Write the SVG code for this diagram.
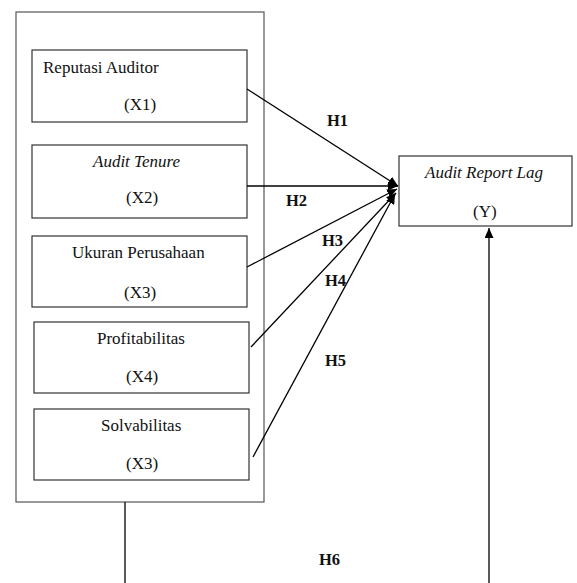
<svg xmlns="http://www.w3.org/2000/svg" width="577" height="583" viewBox="0 0 577 583">
<style>
.box{fill:#fff;stroke:#333;stroke-width:1.2}
.outer{fill:none;stroke:#555;stroke-width:1.2}
text{font-family:'Liberation Serif','Times New Roman',Tinos,serif}
.t{font-size:17px;fill:#111}
.i{font-style:italic}
.h{font-size:16.5px;font-weight:bold;fill:#111}
.ln{stroke:#000;stroke-width:1.3;fill:none}
</style>
<defs>
<marker id="ah" markerUnits="userSpaceOnUse" markerWidth="10" markerHeight="9" refX="10" refY="4.5" orient="auto">
<path d="M0,0 L10,4.5 L0,9 z" fill="#000"/>
</marker>
</defs>
<rect id="outer" class="outer" x="16" y="12" width="248" height="490"/>
<g id="x1"><rect class="box" x="32" y="50" width="215" height="72"/><text class="t" x="43" y="73">Reputasi Auditor</text><text class="t" x="124" y="110">(X1)</text></g>
<g id="x2"><rect class="box" x="32" y="145" width="215" height="73"/><text class="t i" x="93" y="167">Audit Tenure</text><text class="t" x="126" y="203">(X2)</text></g>
<g id="x3"><rect class="box" x="32" y="236" width="215" height="71"/><text class="t" x="72" y="258">Ukuran Perusahaan</text><text class="t" x="124" y="298">(X3)</text></g>
<g id="x4"><rect class="box" x="34" y="322" width="215" height="71"/><text class="t" x="97" y="344">Profitabilitas</text><text class="t" x="126" y="382">(X4)</text></g>
<g id="x5"><rect class="box" x="34" y="409" width="215" height="71"/><text class="t" x="101" y="431">Solvabilitas</text><text class="t" x="126" y="469">(X3)</text></g>
<g id="y"><rect class="box" x="399" y="156" width="173" height="70"/><text class="t i" x="425" y="178">Audit Report Lag</text><text class="t" x="473" y="217">(Y)</text></g>
<g id="connectors">
<line class="ln" x1="247" y1="89" x2="398" y2="186" marker-end="url(#ah)"/>
<line class="ln" x1="247" y1="186" x2="398" y2="186" marker-end="url(#ah)"/>
<line class="ln" x1="247" y1="267" x2="397" y2="189" marker-end="url(#ah)"/>
<line class="ln" x1="251" y1="347" x2="396" y2="193" marker-end="url(#ah)"/>
<line class="ln" x1="253" y1="457" x2="395" y2="194" marker-end="url(#ah)"/>
<line class="ln" x1="125" y1="502" x2="125" y2="583"/>
<line class="ln" x1="489" y1="583" x2="489" y2="228" marker-end="url(#ah)"/>
</g>
<g id="labels">
<text class="h" x="327" y="126">H1</text>
<text class="h" x="286" y="206">H2</text>
<text class="h" x="322" y="246">H3</text>
<text class="h" x="325" y="286">H4</text>
<text class="h" x="325" y="366">H5</text>
<text class="h" x="319" y="565">H6</text>
</g>
</svg>
